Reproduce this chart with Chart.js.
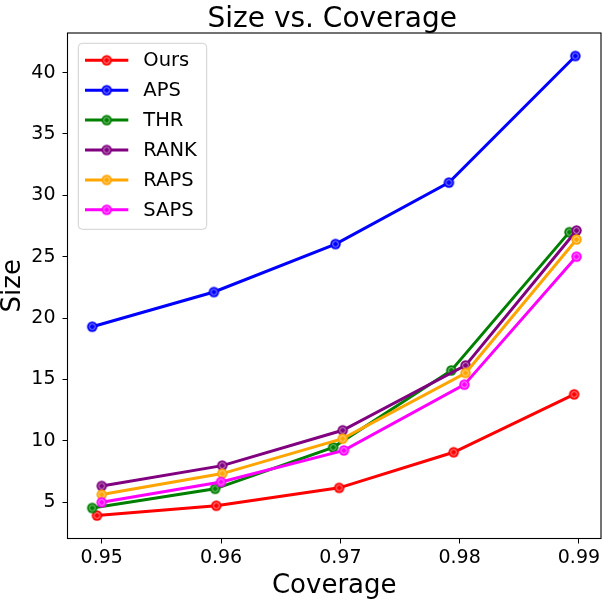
<!DOCTYPE html>
<html>
<head>
<meta charset="utf-8">
<script src="https://cdn.jsdelivr.net/npm/chart.js@4.4.1/dist/chart.umd.min.js"></script>
<style>
  html, body { margin: 0; padding: 0; background: #ffffff; }
  #wrap { width: 602px; height: 600px; }
</style>
</head>
<body>
<div id="wrap"><canvas id="c" width="602" height="600"></canvas></div>
<script>
// ---- Data ----
const seriesNames = ['Ours', 'APS', 'THR', 'RANK', 'RAPS', 'SAPS'];
const seriesColors = ['#ff0000', '#0000ff', '#008000', '#800080', '#ffa500', '#ff00ff'];

const oursCov  = [0.9496, 0.9596, 0.9699, 0.9795, 0.9896];
const oursSize = [3.90, 4.70, 6.16, 9.06, 13.78];
const apsCov   = [0.9492, 0.9594, 0.9696, 0.9791, 0.9897];
const apsSize  = [19.29, 22.12, 26.03, 31.04, 41.36];
const thrCov   = [0.9492, 0.9595, 0.9694, 0.9793, 0.9892];
const thrSize  = [4.52, 6.08, 9.46, 15.73, 27.00];
const rankCov  = [0.9500, 0.9601, 0.9702, 0.9805, 0.9898];
const rankSize = [6.31, 7.97, 10.85, 16.14, 27.13];
const rapsCov  = [0.9500, 0.9601, 0.9702, 0.9805, 0.9898];
const rapsSize = [5.61, 7.32, 10.17, 15.52, 26.40];
const sapsCov  = [0.9500, 0.9600, 0.9703, 0.9804, 0.9898];
const sapsSize = [4.98, 6.64, 9.21, 14.57, 25.00];

const xTickValues = [0.95, 0.96, 0.97, 0.98, 0.99];
const xTickLabels = ['0.95', '0.96', '0.97', '0.98', '0.99'];
const yTickValues = [5, 10, 15, 20, 25, 30, 35, 40];
const yTickLabels = ['5', '10', '15', '20', '25', '30', '35', '40'];

const titleText = 'Size vs. Coverage';
const xTitle = 'Coverage';
const yTitle = 'Size';

const covSeries = [oursCov, apsCov, thrCov, rankCov, rapsCov, sapsCov];
const sizeSeries = [oursSize, apsSize, thrSize, rankSize, rapsSize, sapsSize];

// ---- Styling ----
const FONT = "'DejaVu Sans', 'Liberation Sans', sans-serif";

function markerCanvas(color) {
  const s = 13;
  const cv = document.createElement('canvas');
  cv.width = s; cv.height = s;
  const g = cv.getContext('2d');
  g.beginPath();
  g.arc(s / 2, s / 2, 5.2, 0, Math.PI * 2);
  g.fillStyle = color;
  g.fill();
  g.beginPath();
  g.arc(s / 2, s / 2, 2.9, 0, Math.PI * 2);
  g.strokeStyle = 'rgba(255,255,255,0.55)';
  g.lineWidth = 1;
  g.stroke();
  return cv;
}
const markers = seriesColors.map(markerCanvas);

const datasets = seriesNames.map((name, i) => ({
  label: name,
  data: covSeries[i].map((x, j) => ({ x: x, y: sizeSeries[i][j] })),
  borderColor: seriesColors[i],
  backgroundColor: seriesColors[i],
  borderWidth: 3,
  pointStyle: markers[i],
  pointRadius: 5,
  pointHoverRadius: 5,
  tension: 0,
  fill: false,
  clip: 8,
  order: seriesNames.length - i
}));

const framePlugin = {
  id: 'frame',
  afterDraw(chart) {
    const { ctx, chartArea: a } = chart;
    ctx.save();
    ctx.strokeStyle = '#000000';
    ctx.lineWidth = 1.1;
    ctx.strokeRect(a.left, a.top, a.right - a.left, a.bottom - a.top);
    // title
    ctx.fillStyle = '#000000';
    ctx.font = '28px ' + FONT;
    ctx.textAlign = 'center';
    ctx.textBaseline = 'alphabetic';
    ctx.fillText(titleText, (a.left + a.right) / 2 - 2, 27);
    ctx.restore();
  }
};

const legendPlugin = {
  id: 'innerLegend',
  afterDraw(chart) {
    const { ctx } = chart;
    const bx = 78.3, by = 43.3, bw = 128.4, bh = 186, r = 4;
    ctx.save();
    ctx.beginPath();
    ctx.moveTo(bx + r, by);
    ctx.lineTo(bx + bw - r, by);
    ctx.quadraticCurveTo(bx + bw, by, bx + bw, by + r);
    ctx.lineTo(bx + bw, by + bh - r);
    ctx.quadraticCurveTo(bx + bw, by + bh, bx + bw - r, by + bh);
    ctx.lineTo(bx + r, by + bh);
    ctx.quadraticCurveTo(bx, by + bh, bx, by + bh - r);
    ctx.lineTo(bx, by + r);
    ctx.quadraticCurveTo(bx, by, bx + r, by);
    ctx.closePath();
    ctx.fillStyle = 'rgba(255,255,255,0.8)';
    ctx.fill();
    ctx.strokeStyle = '#d0d0d0';
    ctx.lineWidth = 1;
    ctx.stroke();
    chart.data.datasets.forEach((ds, i) => {
      const y = 60.3 + i * 29.9;
      ctx.beginPath();
      ctx.moveTo(85, y);
      ctx.lineTo(128.3, y);
      ctx.strokeStyle = ds.borderColor;
      ctx.lineWidth = 3;
      ctx.stroke();
      const m = ds.pointStyle;
      ctx.drawImage(m, 106.7 - m.width / 2, y - m.height / 2);
      ctx.fillStyle = '#000000';
      ctx.font = '19.5px ' + FONT;
      ctx.textAlign = 'left';
      ctx.textBaseline = 'middle';
      ctx.fillText(ds.label, 143.3, y + 1);
    });
    ctx.restore();
  }
};

new Chart(document.getElementById('c'), {
  type: 'line',
  data: { datasets: datasets },
  options: {
    responsive: false,
    animation: false,
    devicePixelRatio: 1,
    layout: { autoPadding: false, padding: { top: 33, right: 1, left: 0, bottom: 0 } },
    plugins: {
      legend: { display: false },
      title: { display: false },
      tooltip: { enabled: false }
    },
    scales: {
      x: {
        type: 'linear',
        min: 0.94713,
        max: 0.99185,
        afterFit(scale) { scale.height = 61.5; scale.paddingLeft = 0; scale.paddingRight = 0; },
        afterBuildTicks(scale) { scale.ticks = xTickValues.map(v => ({ value: v })); },
        ticks: {
          color: '#000000',
          font: { family: FONT, size: 19 },
          padding: 3,
          maxRotation: 0,
          autoSkip: false,
          callback(value) { const k = xTickValues.findIndex(t => Math.abs(t - value) < 1e-9); return k >= 0 ? xTickLabels[k] : ''; }
        },
        grid: { display: true, drawOnChartArea: false, drawTicks: true, tickLength: 5, color: '#000000', lineWidth: 1 },
        border: { display: false },
        title: { display: true, text: xTitle, color: '#000000', font: { family: FONT, size: 26, lineHeight: 1 }, padding: { top: 0, bottom: 1 } }
      },
      y: {
        type: 'linear',
        min: 2.03,
        max: 43.23,
        afterFit(scale) { scale.width = 67.5; scale.paddingTop = 0; scale.paddingBottom = 0; },
        afterBuildTicks(scale) { scale.ticks = yTickValues.map(v => ({ value: v })); },
        ticks: {
          color: '#000000',
          font: { family: FONT, size: 19 },
          padding: 7,
          autoSkip: false,
          callback(value) { const k = yTickValues.findIndex(t => Math.abs(t - value) < 1e-9); return k >= 0 ? yTickLabels[k] : ''; }
        },
        grid: { display: true, drawOnChartArea: false, drawTicks: true, tickLength: 5, color: '#000000', lineWidth: 1 },
        border: { display: false },
        title: { display: true, text: yTitle, color: '#000000', font: { family: FONT, size: 26, lineHeight: 1 }, padding: { top: 0, bottom: 0 } }
      }
    }
  },
  plugins: [framePlugin, legendPlugin]
});
</script>
</body>
</html>
